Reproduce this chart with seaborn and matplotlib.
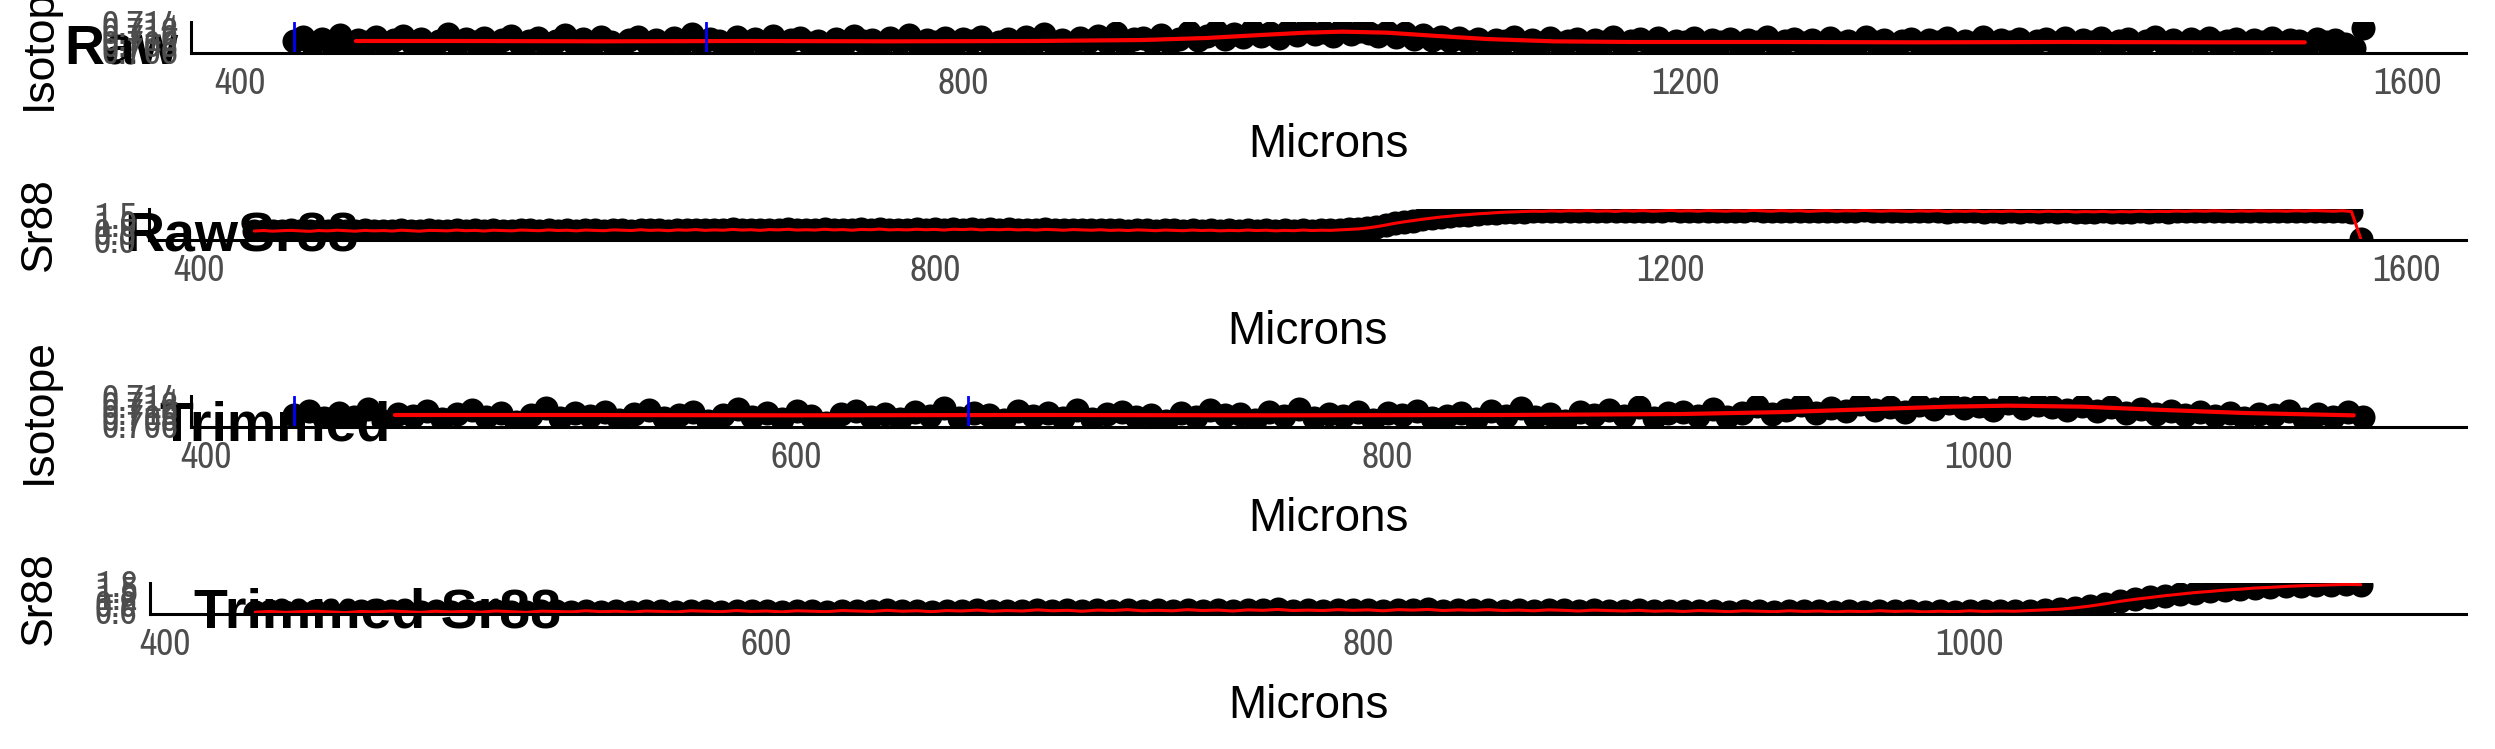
import numpy as np
import pandas as pd
import matplotlib
matplotlib.use("Agg")
import matplotlib.pyplot as plt
from matplotlib import font_manager
import seaborn as sns

# ── data ───────────────────────────────────────────────────────────────────
# laser track position, one reading every 5 microns (430 .. 1575)
microns = np.arange(430, 1576, 5)

isotope = [
    0.7089, 0.7101, 0.7078, 0.7094, 0.7083, 0.7106, 0.7071, 0.7092, 0.7086, 0.7099,
    0.7075, 0.7090, 0.7103, 0.7081, 0.7095, 0.7068, 0.7088, 0.7108, 0.7079, 0.7093,
    0.7084, 0.7098, 0.7073, 0.7091, 0.7102, 0.7080, 0.7087, 0.7096, 0.7070, 0.7089,
    0.7105, 0.7082, 0.7093, 0.7077, 0.7099, 0.7086, 0.7064, 0.7092, 0.7101, 0.7083,
    0.7090, 0.7076, 0.7097, 0.7085, 0.7109, 0.7079, 0.7094, 0.7088, 0.7072, 0.7100,
    0.7086, 0.7093, 0.7080, 0.7104, 0.7075, 0.7091, 0.7097, 0.7083, 0.7089, 0.7069,
    0.7095, 0.7081, 0.7102, 0.7087, 0.7092, 0.7074, 0.7098, 0.7085, 0.7107, 0.7079,
    0.7090, 0.7084, 0.7096, 0.7073, 0.7093, 0.7088, 0.7101, 0.7080, 0.7086, 0.7094,
    0.7077, 0.7099, 0.7085, 0.7110, 0.7082, 0.7091, 0.7071, 0.7096, 0.7088, 0.7103,
    0.7084, 0.7112, 0.7079, 0.7093, 0.7098, 0.7086, 0.7106, 0.7081, 0.7095, 0.7114,
    0.7090, 0.7102, 0.7117, 0.7094, 0.7108, 0.7099, 0.7121, 0.7103, 0.7112, 0.7097,
    0.7118, 0.7106, 0.7125, 0.7110, 0.7115, 0.7102, 0.7123, 0.7108, 0.7119, 0.7111,
    0.7104, 0.7116, 0.7099, 0.7112, 0.7094, 0.7107, 0.7091, 0.7101, 0.7087, 0.7098,
    0.7085, 0.7095, 0.7080, 0.7092, 0.7087, 0.7100, 0.7076, 0.7090, 0.7083, 0.7097,
    0.7081, 0.7088, 0.7094, 0.7074, 0.7091, 0.7085, 0.7099, 0.7078, 0.7087, 0.7093,
    0.7082, 0.7096, 0.7076, 0.7089, 0.7084, 0.7098, 0.7072, 0.7090, 0.7086, 0.7095,
    0.7079, 0.7092, 0.7085, 0.7101, 0.7077, 0.7088, 0.7094, 0.7081, 0.7090, 0.7073,
    0.7096, 0.7083, 0.7089, 0.7078, 0.7099, 0.7086, 0.7092, 0.7075, 0.7087, 0.7094,
    0.7080, 0.7091, 0.7085, 0.7097, 0.7074, 0.7089, 0.7083, 0.7100, 0.7079, 0.7092,
    0.7086, 0.7095, 0.7071, 0.7088, 0.7093, 0.7082, 0.7098, 0.7077, 0.7090, 0.7085,
    0.7096, 0.7080, 0.7089, 0.7094, 0.7076, 0.7087, 0.7099, 0.7083, 0.7091, 0.7078,
    0.7093, 0.7086, 0.7097, 0.7081, 0.7088, 0.7095, 0.7074, 0.7090, 0.7084, 0.7098,
    0.7082, 0.7092, 0.7087, 0.7079, 0.7095, 0.7085, 0.7091, 0.7080, 0.7066, 0.7126,
]

sr88 = [
    0.51, 0.54, 0.50, 0.53, 0.55, 0.52, 0.49, 0.54, 0.52, 0.56,
    0.53, 0.50, 0.55, 0.52, 0.54, 0.51, 0.56, 0.53, 0.50, 0.55,
    0.54, 0.52, 0.57, 0.53, 0.55, 0.51, 0.56, 0.54, 0.52, 0.57,
    0.55, 0.53, 0.58, 0.54, 0.56, 0.52, 0.57, 0.55, 0.53, 0.58,
    0.56, 0.54, 0.59, 0.55, 0.57, 0.53, 0.58, 0.56, 0.60, 0.55,
    0.58, 0.56, 0.61, 0.57, 0.59, 0.55, 0.60, 0.58, 0.62, 0.57,
    0.59, 0.57, 0.62, 0.58, 0.60, 0.56, 0.61, 0.59, 0.63, 0.58,
    0.60, 0.58, 0.62, 0.59, 0.61, 0.57, 0.62, 0.60, 0.63, 0.58,
    0.61, 0.59, 0.62, 0.58, 0.60, 0.57, 0.61, 0.59, 0.56, 0.60,
    0.58, 0.56, 0.59, 0.55, 0.57, 0.54, 0.58, 0.56, 0.53, 0.57,
    0.55, 0.53, 0.57, 0.54, 0.56, 0.52, 0.55, 0.53, 0.57, 0.54,
    0.56, 0.52, 0.55, 0.53, 0.57, 0.54, 0.56, 0.55, 0.58, 0.61,
    0.64, 0.70, 0.78, 0.88, 0.99, 1.08, 1.16, 1.24, 1.31, 1.38,
    1.43, 1.49, 1.53, 1.58, 1.61, 1.65, 1.68, 1.70, 1.72, 1.74,
    1.73, 1.76, 1.74, 1.77, 1.75, 1.78, 1.74, 1.76, 1.73, 1.77,
    1.75, 1.78, 1.74, 1.76, 1.79, 1.75, 1.77, 1.74, 1.78, 1.76,
    1.74, 1.77, 1.75, 1.79, 1.76, 1.74, 1.78, 1.75, 1.77, 1.73,
    1.76, 1.78, 1.74, 1.77, 1.75, 1.79, 1.76, 1.74, 1.77, 1.75,
    1.73, 1.76, 1.74, 1.77, 1.72, 1.75, 1.73, 1.76, 1.71, 1.74,
    1.72, 1.75, 1.71, 1.73, 1.70, 1.74, 1.71, 1.73, 1.69, 1.72,
    1.70, 1.73, 1.69, 1.72, 1.70, 1.74, 1.71, 1.73, 1.72, 1.75,
    1.73, 1.76, 1.74, 1.77, 1.75, 1.73, 1.76, 1.74, 1.77, 1.75,
    1.76, 1.74, 1.77, 1.75, 1.78, 1.76, 1.74, 1.77, 1.72, 0.04,
]

# smoothed isotope trace (red)
smooth_x = [464, 520, 600, 680, 760, 840, 900, 935, 965, 990, 1010, 1035,
            1060, 1090, 1127, 1170, 1250, 1330, 1410, 1490, 1543]
smooth_iso = [0.7088, 0.7088, 0.7087, 0.7088, 0.7087, 0.7088, 0.7091, 0.7097,
              0.7106, 0.7113, 0.7116, 0.7113, 0.7104, 0.7094, 0.7087, 0.7085,
              0.7085, 0.7084, 0.7085, 0.7084, 0.7084]

marks = [430, 658]          # blue markers
trim_end = 1133             # end of trimmed window

iso_ticks = [0.706, 0.708, 0.710, 0.712, 0.714]
raw_sr_ticks = [0.0, 0.5, 1.0, 1.5]
trim_sr_ticks = [0.6, 0.9, 1.2, 1.5, 1.8]
raw_x_ticks = [400, 800, 1200, 1600]
trim_x_ticks = [400, 600, 800, 1000]

# ── tables ───────────────────────────────────────────────────────────────────
raw = pd.DataFrame({"Microns": microns, "Isotope": isotope, "Sr88": sr88})
trim = raw[raw["Microns"] <= trim_end]
smooth = pd.DataFrame({"Microns": smooth_x, "Isotope": smooth_iso})
smooth_trim = smooth[smooth["Microns"] <= trim_end]

# ── style ────────────────────────────────────────────────────────────────────
sns.set_style("white")
plt.rcParams["font.family"] = ["Liberation Sans", "DejaVu Sans"]

# narrow face for the tick labels, whichever is installed
installed = {f.name for f in font_manager.fontManager.ttflist}
TICK_FAMILY = [f for f in ["Archivo Narrow", "Liberation Sans Narrow",
                           "Liberation Sans"] if f in installed] or ["DejaVu Sans"]
TICK_GREY = "#4D4D4D"

W, H = 2495, 749
RIGHT = 2466
PH = 31
fig = plt.figure(figsize=(W / 100, H / 100), dpi=100)


def expand(lo, hi, f=0.05):
    pad = (hi - lo) * f
    return lo - pad, hi + pad


def draw_panel(left, top, df, ycol, ylim, yticks, yfmt, xticks,
               ylabel, title, title_xy, line=None, blue=None):
    ax = fig.add_axes([left / W, 1 - (top + PH) / H, (RIGHT - left) / W, PH / H])
    ax.patch.set_visible(False)
    sns.scatterplot(data=df, x="Microns", y=ycol, color="black", s=300,
                    linewidth=0, ax=ax, zorder=2)
    if line is not None:
        sns.lineplot(data=line, x="Microns", y=ycol, color="red", lw=3,
                     ax=ax, zorder=3)
    else:
        sns.lineplot(data=df, x="Microns", y=ycol, color="red", lw=2.2,
                     estimator=None, ax=ax, zorder=3)
    if blue:
        for m in blue:
            ax.axvline(m, color="blue", lw=2, zorder=4)

    ax.set_xlim(*expand(df["Microns"].min(), df["Microns"].max()))
    ax.set_ylim(*ylim)
    ax.set_xticks(xticks, labels=[str(t) for t in xticks])
    ax.set_yticks(yticks, labels=[yfmt.format(t) for t in yticks])
    for lab in ax.get_xticklabels() + ax.get_yticklabels():
        lab.set_family(TICK_FAMILY)
        lab.set_fontsize(27)
        lab.set_color(TICK_GREY)
    ax.tick_params(length=6, width=1.5, color="#333333", pad=3)
    ax.tick_params(axis="x", pad=4)

    for s in ["top", "right"]:
        ax.spines[s].set_visible(False)
    for s in ["left", "bottom"]:
        ax.spines[s].set_color("black")
        ax.spines[s].set_linewidth(2.2)
        ax.spines[s].set_zorder(5)

    wpx = RIGHT - left
    ax.set_xlabel("Microns", fontsize=33, color="black")
    ax.xaxis.set_label_coords(0.5, -70 / PH)
    ax.set_ylabel(ylabel, fontsize=32, color="black")
    ax.yaxis.set_label_coords((60 - left) / wpx, 0.5)

    # the title sits beneath the panel contents, as in the original
    fig.text(title_xy[0] / W, 1 - title_xy[1] / H, title, fontsize=40,
             fontweight="bold", ha="left", va="baseline", color="black",
             zorder=-1)
    return ax


draw_panel(191, 22, raw, "Isotope", (0.7052, 0.7145), iso_ticks, "{:.3f}",
           raw_x_ticks, "Isotope", "Raw", (64, 63), line=smooth, blue=marks)
draw_panel(149, 209, raw, "Sr88", expand(raw["Sr88"].min(), raw["Sr88"].max()),
           raw_sr_ticks, "{:.1f}", raw_x_ticks, "Sr88", "RawSr88", (124, 251))
draw_panel(191, 396, trim, "Isotope", (0.7052, 0.7145), iso_ticks, "{:.3f}",
           trim_x_ticks, "Isotope", "Trimmed", (159, 440),
           line=smooth_trim, blue=marks)
draw_panel(150, 583, trim, "Sr88", expand(trim["Sr88"].min(), trim["Sr88"].max()),
           trim_sr_ticks, "{:.1f}", trim_x_ticks, "Sr88", "Trimmed Sr88", (194, 627))

fig.savefig("out.png", dpi=100)
